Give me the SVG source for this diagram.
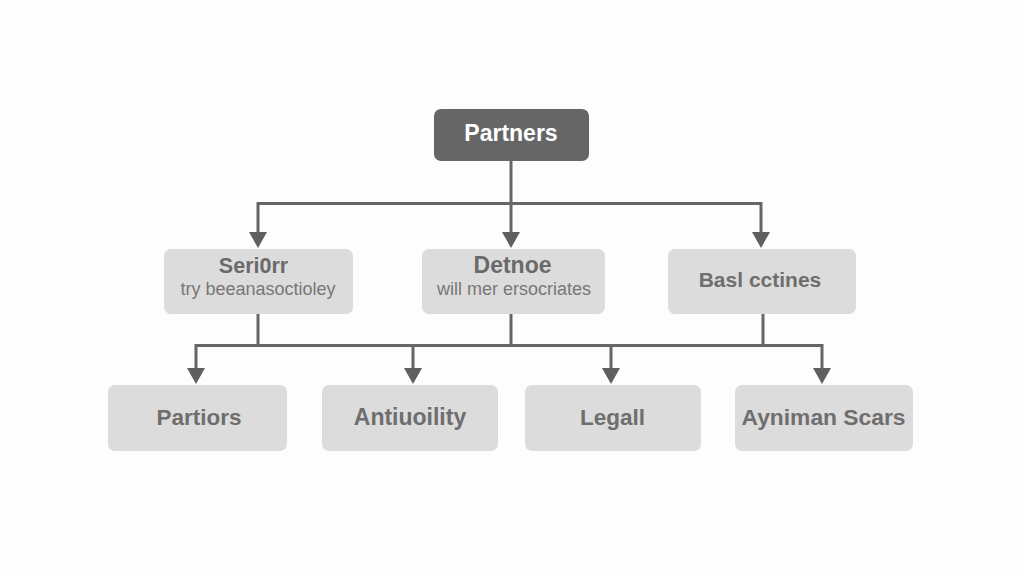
<svg xmlns="http://www.w3.org/2000/svg" width="1024" height="576" viewBox="0 0 1024 576">
<style>
.bg{fill:#fdfdfd}
.box{fill:#dcdcdc}
.root{fill:#666666}
.c{fill:none;stroke:#666666;stroke-width:3}
.h{fill:#5f5f5f}
text{font-family:"Liberation Sans",Arial,sans-serif;text-anchor:middle}
.t{font-weight:bold;fill:#6a6a6a}
.ts{font-size:18px;fill:#777777}
.l{font-size:22.500px;font-weight:bold;fill:#6e6e6e}
.w{font-size:23px;font-weight:bold;fill:#ffffff}
</style>
<defs><path id="ah" class="h" d="M-9,-16 H9 L0,0 Z"/></defs>
<rect class="bg" width="1024" height="576"/>
<g id="connectors">
<path class="c" d="M511,161 V232"/>
<path class="c" d="M258,232 V203.500 H761 V232"/>
<path class="c" d="M258,314 V345.500 M511,314 V345.500 M763,314 V345.500"/>
<path class="c" d="M196,368 V345.500 H822 V368"/>
<path class="c" d="M413,345.500 V368 M611,345.500 V368"/>
<use href="#ah" x="258" y="248"/>
<use href="#ah" x="511" y="248"/>
<use href="#ah" x="761" y="248"/>
<use href="#ah" x="196" y="384"/>
<use href="#ah" x="413" y="384"/>
<use href="#ah" x="611" y="384"/>
<use href="#ah" x="822" y="384"/>
</g>
<g id="partners"><rect class="root" x="434" y="109" width="155" height="52" rx="7"/><text class="w" x="511" y="141">Partners</text></g>
<g id="senior"><rect class="box" x="164" y="249" width="189" height="65" rx="7"/><text class="t" style="font-size:21.500px" x="253.500" y="273">Seri0rr</text><text class="ts" x="258" y="294.500">try beeanasoctioley</text></g>
<g id="detnoe"><rect class="box" x="422" y="249" width="183" height="65" rx="7"/><text class="t" style="font-size:23px" x="512.500" y="272.500">Detnoe</text><text class="ts" x="514" y="294.500">will mer ersocriates</text></g>
<g id="basl"><rect class="box" x="668" y="249" width="188" height="65" rx="7"/><text class="l" style="font-size:21px" x="760" y="286.500">Basl cctines</text></g>
<g id="partiors"><rect class="box" x="108" y="385" width="179" height="66" rx="7"/><text class="l" x="199" y="425">Partiors</text></g>
<g id="antiuoility"><rect class="box" x="322" y="385" width="176" height="66" rx="7"/><text class="l" style="font-size:23px" x="410" y="425">Antiuoility</text></g>
<g id="legall"><rect class="box" x="525" y="385" width="176" height="66" rx="7"/><text class="l" x="612.500" y="425">Legall</text></g>
<g id="ayniman"><rect class="box" x="735" y="385" width="178" height="66" rx="7"/><text class="l" style="font-size:22.800px" x="823.500" y="425">Ayniman Scars</text></g>
</svg>
